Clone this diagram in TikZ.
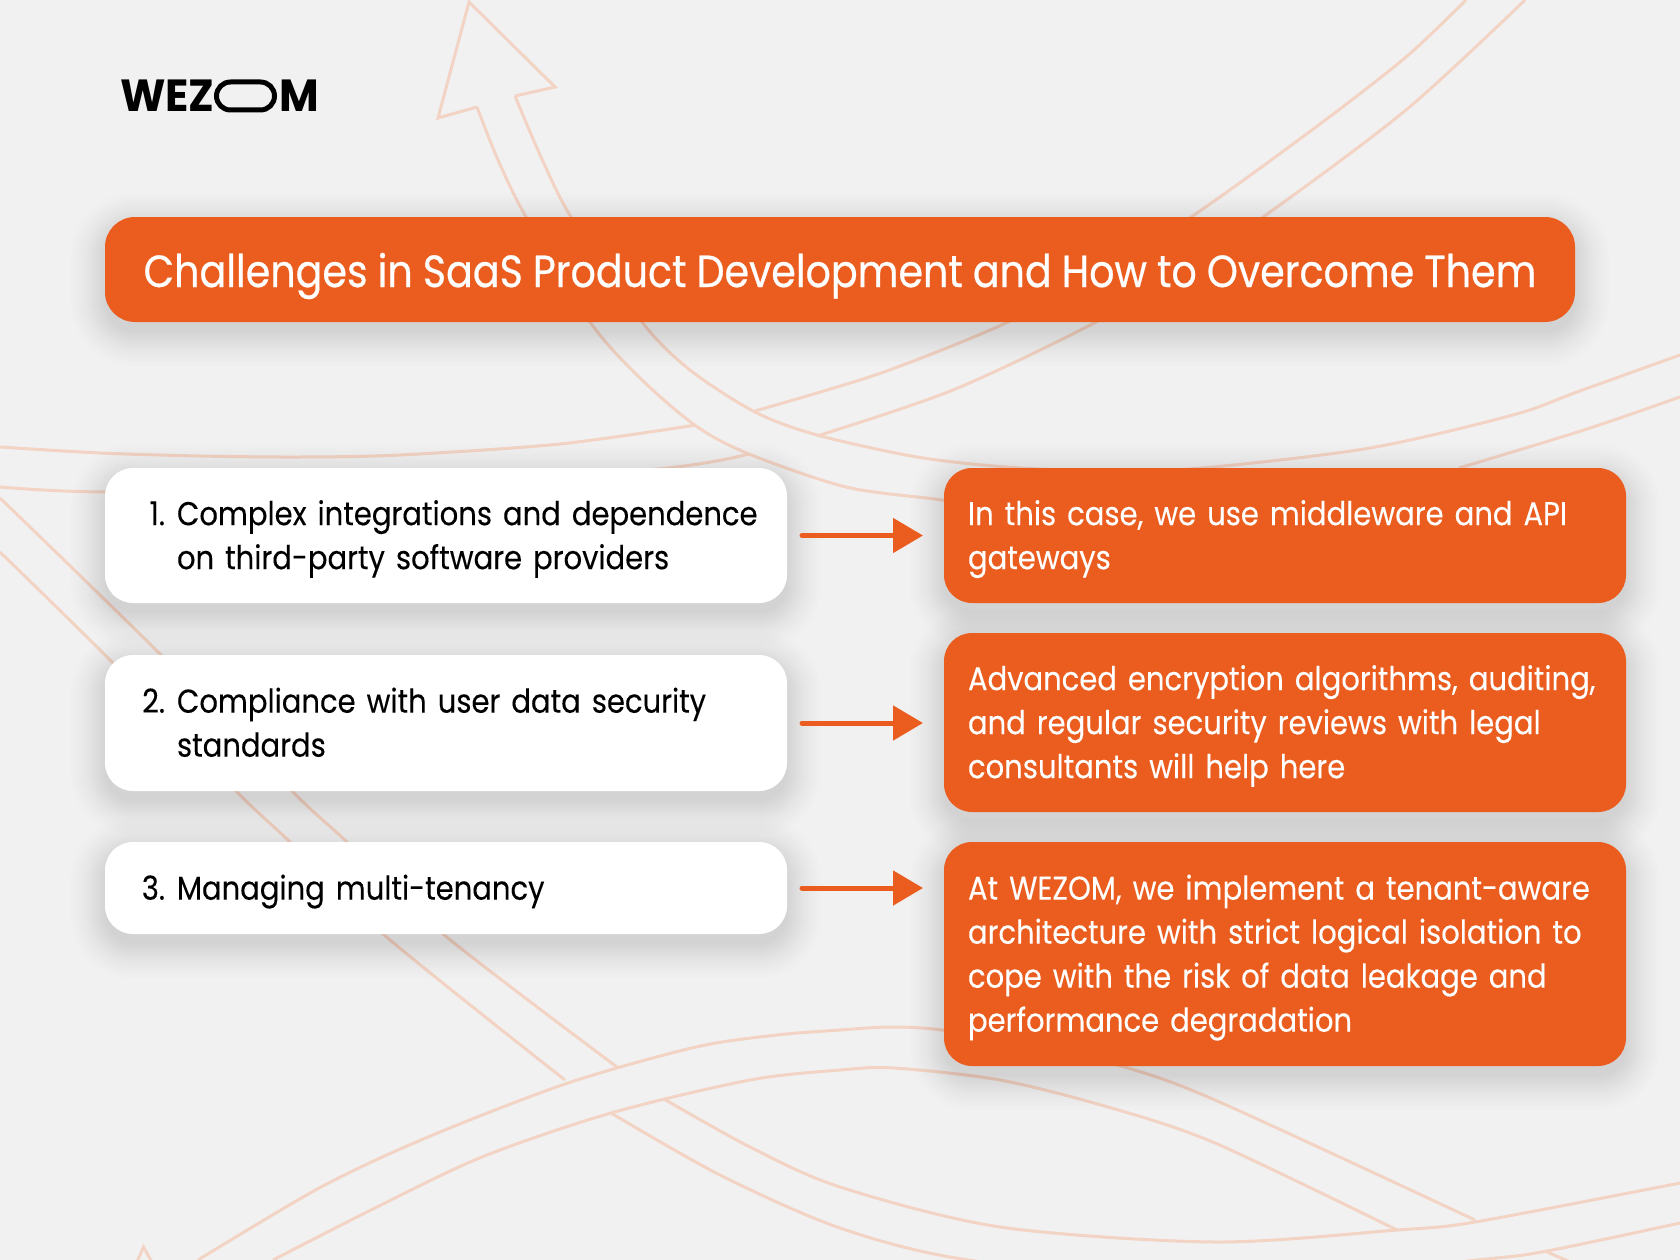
\documentclass[tikz,border=0pt]{standalone}
\usepackage{fontspec}
\newfontfamily\bodyfont{Poppins}[FakeStretch=0.88,WordSpace=0.88,FakeBold=0.15]
\newfontfamily\logofont{Poppins}[FakeStretch=0.96]
\newfontfamily\titlefont{Poppins}[FakeStretch=0.88,WordSpace=0.95,FakeBold=0.5]
\usepackage{tikz}
\usetikzlibrary{positioning, calc, arrows.meta}
\definecolor{wezorange}{HTML}{EB5D1E}
\definecolor{paper}{HTML}{F1F1F1}
\definecolor{ribboncol}{HTML}{F2D3C4}
\pgfdeclarelayer{back}
\pgfsetlayers{back,main}
% invisible prop that fixes where a line of box text sits
\newcommand{\boxstrut}{\rule[-10.3pt]{0pt}{44pt}}
\tikzset{
x=1pt, y=-1pt, % one unit is one pixel of the reference
ribbon/.style={draw=ribboncol, line width=3pt}, % the pale lines in the background
every node/.style={inner ysep=0pt, outer sep=0pt},
boxtext/.style={align=left, font=\fontsize{33}{44}\selectfont\bodyfont, execute at begin node={\hyphenpenalty=10000\relax\boxstrut}, execute at end node={\boxstrut}},
leftbox/.style={boxtext, fill=white, text=black, rounded corners=28pt, minimum width=682pt, text width=640pt, inner xsep=21pt},
rightbox/.style={boxtext, fill=wezorange, text=white, rounded corners=28pt, minimum width=682pt, text width=634pt, inner xsep=24pt},
titlebox/.style={fill=wezorange, text=white, rounded corners=30pt, minimum width=1470pt, minimum height=105pt, text height=35pt, text depth=0pt, font=\fontsize{45}{50}\selectfont\titlefont},
logotext/.style={text=black, inner sep=0pt, font=\fontsize{45}{45}\selectfont\logofont\bfseries},
goesto/.style={draw=wezorange, line width=5pt, line cap=round, shorten <=15pt, shorten >=21pt, -{Triangle[length=30pt,width=34pt]}},
}
% number of a list item, and the indent of its next lines
\newcommand{\itemno}[1]{\makebox[39pt][r]{#1}\hspace{12pt}}
\newcommand{\itemgap}{\hspace*{51pt}}
% soft shadow under a named node
\newcommand{\softshadow}[2]{%
  \foreach \g in {34,30,27,24,21,18,16,14,12,10,8,6,4,2,0}{
    \pgfmathsetmacro{\rr}{#2+\g}
    \fill[black, opacity=0.0095, rounded corners=\rr pt]
      ($(#1.south west)+(-\g,10+\g)$) rectangle ($(#1.north east)+(\g,10-\g)$);
  }%
}

\begin{document}
\begin{tikzpicture}
    \useasboundingbox (0,0) rectangle (1680,1260);

    \begin{pgfonlayer}{back}
    \fill[paper] (0,0) rectangle (1680,1260);
    \begin{scope}
    \clip (0,0) rectangle (1680,1260);
    % big arrow from the top
    \draw[ribbon, line join=miter] (477,107) -- (438,118) -- (469,2) -- (555,87) -- (515,96);
    \draw[ribbon] plot[smooth] coordinates {(477,107) (498,160) (526,217) (590,322) (640,378) (696,426) (749,454) (846,487) (935,499) (960,503)};
    \draw[ribbon] plot[smooth] coordinates {(1459,468) (1584,430) (1680,397)};
    \draw[ribbon] plot[smooth] coordinates {(515,96) (541,157) (571,217) (642,322) (690,370) (755,412) (817,435) (917,457) (1006,467) (1100,471) (1202,468) (1370,448) (1513,415) (1577,392) (1680,355)};
    % ribbon from the top right to the left edge
    \draw[ribbon] plot[smooth] coordinates {(1466,0) (1406,57) (1316,127) (1191,217) (1100,270) (1008,322) (881,373) (755,411)};
    \draw[ribbon] plot[smooth] coordinates {(1525,0) (1406,110) (1263,217) (1180,270) (1096,322) (953,390) (817,436)};
    \draw[ribbon] plot[smooth] coordinates {(696,425) (560,444) (400,455) (300,457) (200,456) (100,453) (0,447)};
    \draw[ribbon] plot[smooth] coordinates {(749,454) (667,468) (400,490) (105,492) (0,487)};
    % diagonal ribbon from the left edge
    \draw[ribbon] plot[smooth] coordinates {(0,552) (113,663) (237,792) (290,842) (383,934) (565,1080)};
    \draw[ribbon] plot[smooth] coordinates {(0,498) (161,655) (293,792) (347,842) (443,934) (617,1067)};
    \draw[ribbon] plot[smooth] coordinates {(611,1113) (720,1175) (840,1228) (968,1260) (1215,1285) (1477,1260) (1547,1251) (1680,1223)};
    \draw[ribbon] plot[smooth] coordinates {(664,1099) (750,1147) (840,1187) (1000,1227) (1215,1242) (1397,1230) (1475,1222) (1680,1183)};
    % ribbon from the bottom left
    \draw[ribbon] (136,1264) -- (143.5,1247) -- (153,1264);
    \draw[ribbon] plot[smooth] coordinates {(198,1260) (321,1187) (428,1137) (568,1083) (696,1047) (777,1035) (840,1030) (890,1027) (942,1030) (1030,1045) (1121,1066) (1215,1100) (1475,1220)};
    \draw[ribbon] plot[smooth] coordinates {(273,1260) (375,1208) (482,1157) (611,1113) (750,1080) (840,1070) (894,1068) (1000,1080) (1108,1107) (1215,1143) (1397,1230)};
    \draw[ribbon] (1547,1252) -- (1575,1264);
    \end{scope}
    \end{pgfonlayer}

    % logo
    \node[logotext, anchor=base west] (logow) at (120,112) {WEZ};
    \node[draw=black, line width=5pt, rounded corners=14pt, minimum width=58pt, minimum height=28pt, inner sep=0pt] (logoo) at (245.5,96) {};
    \node[logotext, anchor=base west] (logom) at (279,112) {M};

    \node[titlebox, anchor=north west] (title) at (105,217) {Challenges in SaaS Product Development and How to Overcome Them};

    \node[leftbox, minimum height=135pt, anchor=north west] (l1) at (105,468) {\itemno{1.}Complex integrations and dependence\\\itemgap on third-party software providers};
    \node[leftbox, minimum height=136pt, below=52pt of l1] (l2) {\itemno{2.}Compliance with user data security\\\itemgap standards};
    \node[leftbox, minimum height=92pt, below=51pt of l2] (l3) {\itemno{3.}Managing multi-tenancy};

    \node[rightbox, minimum height=135pt, right=157pt of l1] (r1) {In this case, we use middleware and API\\gateways};
    \node[rightbox, minimum height=179pt, below=30pt of r1] (r2) {Advanced encryption algorithms, auditing,\\and regular security reviews with legal\\consultants will help here};
    \node[rightbox, minimum height=224pt, below=30pt of r2] (r3) {At WEZOM, we implement a tenant-aware\\architecture with strict logical isolation to\\cope with the risk of data leakage and\\performance degradation};

    \begin{pgfonlayer}{back}
    \softshadow{title}{30}
    \foreach \b in {l1,l2,l3,r1,r2,r3}{\softshadow{\b}{28}}
    \end{pgfonlayer}

    \draw[goesto] (l1.east) -- (l1.east -| r1.west);
    \draw[goesto] (l2.east) -- (l2.east -| r2.west);
    \draw[goesto] (l3.east) -- (l3.east -| r3.west);
\end{tikzpicture}
\end{document}
